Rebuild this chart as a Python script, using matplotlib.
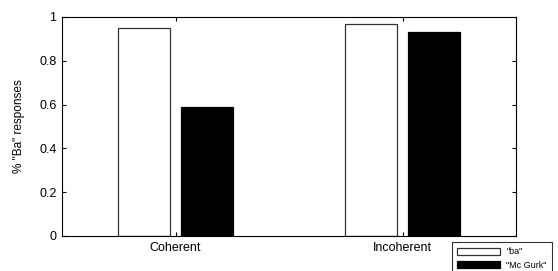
import numpy as np
import matplotlib.pyplot as plt

plt.rcParams['font.family'] = ['Liberation Sans', 'DejaVu Sans']

categories = ['Coherent', 'Incoherent']
ba_values = [0.95, 0.97]
mcgurk_values = [0.59, 0.93]
series_labels = ['"ba"', '"Mc Gurk"']

fig = plt.figure(figsize=(5.58, 2.71), dpi=100)
ax = fig.add_axes([62 / 558, 1 - 236 / 271, 454 / 558, 219 / 271])

x = np.arange(1, len(categories) + 1)
w = 0.23
off = 0.14
ax.bar(x - off, ba_values, w, color='white', edgecolor='#333333', linewidth=0.9, label=series_labels[0])
ax.bar(x + off, mcgurk_values, w, color='black', edgecolor='black', linewidth=0.9, label=series_labels[1])

ax.set_xlim(0.5, 2.5)
ax.set_ylim(0, 1)
ax.set_xticks(x)
ax.set_xticklabels(categories)
ax.set_yticks([0, 0.2, 0.4, 0.6, 0.8, 1])
ax.set_yticklabels(['0', '0.2', '0.4', '0.6', '0.8', '1'])
ax.tick_params(direction='in', length=3, width=0.8, labelsize=9, top=True, right=True, pad=4)
ax.set_ylabel('% "Ba" responses', fontsize=8.5, labelpad=10)
for s in ax.spines.values():
    s.set_linewidth(0.8)

leg = fig.legend(loc='upper left', bbox_to_anchor=(452 / 558, 1 - 242 / 271),
                 fontsize=6.5, frameon=True, fancybox=False, edgecolor='black',
                 handlelength=4.7, handleheight=0.8, borderpad=0.6, labelspacing=0.5,
                 handletextpad=0.7, borderaxespad=0)
leg.get_frame().set_linewidth(0.8)

fig.savefig('out.png', dpi=100)
